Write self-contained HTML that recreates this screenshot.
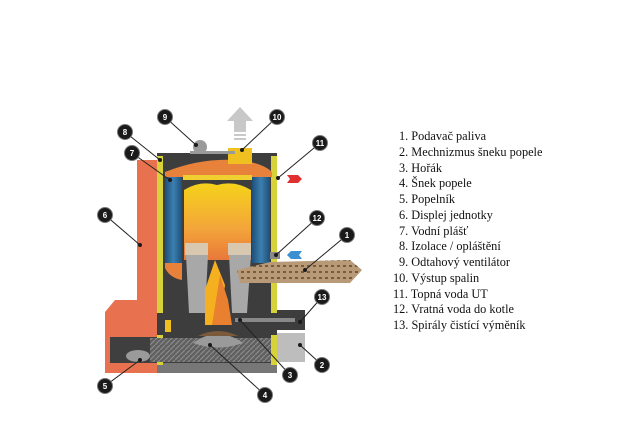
<!DOCTYPE html>
<html><head><meta charset="utf-8"><style>
body{margin:0;background:#fff;width:640px;height:423px;overflow:hidden;}
.lg{position:absolute;left:393px;top:129px;font-family:"Liberation Serif",serif;font-size:12.3px;line-height:15.75px;color:#111;white-space:nowrap;}
.lg span{display:inline-block;width:6px}
</style></head><body>
<svg width="640" height="423" style="position:absolute;left:0;top:0">
<defs>
<linearGradient id="fl" x1="0" y1="0" x2="0" y2="1"><stop offset="0" stop-color="#f5d21a"/><stop offset="0.6" stop-color="#f3a43a"/><stop offset="1" stop-color="#e8783a"/></linearGradient>
<linearGradient id="bl" x1="0" y1="0" x2="1" y2="0"><stop offset="0" stop-color="#1e4f78"/><stop offset="0.5" stop-color="#3c7fb0"/><stop offset="1" stop-color="#1e4f78"/></linearGradient>
<pattern id="pel" width="6" height="6" patternUnits="userSpaceOnUse"><rect width="6" height="6" fill="#b89a78"/><rect x="1" y="1" width="3" height="2" fill="#7a5a3a"/></pattern>
<pattern id="aug" width="5" height="5" patternUnits="userSpaceOnUse"><rect width="5" height="5" fill="#606060"/><line x1="0" y1="5" x2="5" y2="0" stroke="#8a8a8a" stroke-width="1.2"/></pattern>
</defs>
<!-- gray arrow -->
<polygon points="240,107 253,121 246,121 246,132 234,132 234,121 227,121" fill="#c8c8c8"/>
<rect x="234" y="134" width="12" height="2" fill="#c8c8c8"/><rect x="234" y="138" width="12" height="2" fill="#c8c8c8"/>
<!-- orange side panel -->
<rect x="137" y="160" width="20" height="142" fill="#e8714f"/>
<polygon points="105,312 115,300 157,300 157,373 105,373" fill="#e8714f"/>
<rect x="110" y="337" width="47" height="26" fill="#3f3f3f"/>
<ellipse cx="138" cy="356" rx="12" ry="6" fill="#9a9a9a"/>
<!-- body -->
<rect x="157" y="153" width="120" height="220" fill="#3d3d3d"/>
<rect x="157" y="363" width="120" height="10" fill="#777"/>
<rect x="157" y="156" width="6" height="157" fill="#d7d23a"/>
<rect x="271" y="156" width="6" height="157" fill="#d7d23a"/>
<rect x="157" y="335" width="6" height="30" fill="#d7d23a"/>
<rect x="271" y="335" width="6" height="30" fill="#d7d23a"/>
<!-- top duct -->
<path d="M165,172 Q200,158 235,160 Q262,162 272,172 L272,177 L165,177 Z" fill="#e8823a"/>
<rect x="228" y="148" width="24" height="16" fill="#f0c020"/>
<rect x="190" y="151" width="45" height="3" fill="#999"/>
<ellipse cx="200" cy="147" rx="7" ry="7" fill="#9a9a9a"/>
<!-- water jackets -->
<rect x="165" y="177" width="17" height="86" fill="url(#bl)"/>
<rect x="252" y="177" width="18" height="86" fill="url(#bl)"/>
<!-- flame chamber -->
<rect x="183" y="175" width="69" height="5" fill="#f0d030"/>
<path d="M184,260 L184,190 Q200,180 217,185 Q235,180 251,190 L251,260 Z" fill="url(#fl)"/>
<path d="M165,263 L182,263 L182,280 Q170,278 165,268 Z" fill="#e8823a"/>
<!-- burner cones -->
<rect x="185" y="243" width="23" height="12" fill="#d8c8b0"/>
<rect x="228" y="243" width="23" height="12" fill="#d8c8b0"/>
<polygon points="186,255 208,255 205,313 189,313" fill="#a8a8a8"/>
<polygon points="229,255 251,255 247,313 232,313" fill="#a8a8a8"/>
<polygon points="205,290 215,260 225,285 220,325 205,325" fill="#f5b020"/>
<polygon points="212,325 220,275 228,300 232,325" fill="#e88030"/>
<!-- pellet feeder -->
<polygon points="237,270 270,262 350,260 362,270 350,283 240,283" fill="url(#pel)"/>
<rect x="270" y="252" width="10" height="7" fill="#888"/>
<!-- 13 box -->
<rect x="277" y="310" width="28" height="20" fill="#3d3d3d"/>
<rect x="235" y="318" width="60" height="4" fill="#888"/>
<rect x="165" y="320" width="6" height="12" fill="#f0c020"/>
<!-- auger -->
<rect x="150" y="338" width="121" height="24" fill="url(#aug)"/>
<rect x="277" y="333" width="28" height="29" fill="#bdbdbd"/>
<path d="M193,343 Q218,325 243,343 Q218,352 193,343 Z" fill="#9a9a9a"/>
<path d="M198,336 Q218,326 238,336 Z" fill="#7a5a3a"/>
<!-- water arrows -->
<polygon points="287,175 298,175 302,179 298,183 287,183 290,179" fill="#e03030"/>
<polygon points="302,251 291,251 287,255 291,259 302,259 299,255" fill="#3a90d0"/>
<!-- leaders -->
<g stroke="#222" stroke-width="1">
<line x1="165" y1="117" x2="196" y2="145"/><line x1="277" y1="117" x2="242" y2="150"/>
<line x1="125" y1="132" x2="160" y2="160"/><line x1="132" y1="153" x2="170" y2="180"/>
<line x1="320" y1="143" x2="278" y2="178"/><line x1="105" y1="215" x2="140" y2="245"/>
<line x1="317" y1="218" x2="276" y2="255"/><line x1="347" y1="235" x2="305" y2="270"/>
<line x1="322" y1="297" x2="300" y2="322"/><line x1="322" y1="365" x2="300" y2="345"/>
<line x1="290" y1="375" x2="240" y2="320"/><line x1="265" y1="395" x2="210" y2="345"/>
<line x1="105" y1="386" x2="140" y2="360"/>
</g>
<g fill="#1a1a1a"><circle cx="196" cy="145" r="2"/><circle cx="242" cy="150" r="2"/><circle cx="160" cy="160" r="2"/><circle cx="170" cy="180" r="2"/><circle cx="278" cy="178" r="2"/><circle cx="140" cy="245" r="2"/><circle cx="276" cy="255" r="2"/><circle cx="305" cy="270" r="2"/><circle cx="300" cy="322" r="2"/><circle cx="300" cy="345" r="2"/><circle cx="240" cy="320" r="2"/><circle cx="210" cy="345" r="2"/><circle cx="140" cy="360" r="2"/></g>
<g fill="#1a1a1a" stroke="#777" stroke-width="1">
<circle cx="165" cy="117" r="7.5"/><circle cx="277" cy="117" r="7.5"/><circle cx="125" cy="132" r="7.5"/><circle cx="132" cy="153" r="7.5"/><circle cx="320" cy="143" r="7.5"/><circle cx="105" cy="215" r="7.5"/><circle cx="317" cy="218" r="7.5"/><circle cx="347" cy="235" r="7.5"/><circle cx="322" cy="297" r="7.5"/><circle cx="322" cy="365" r="7.5"/><circle cx="290" cy="375" r="7.5"/><circle cx="265" cy="395" r="7.5"/><circle cx="105" cy="386" r="7.5"/>
</g>
<g fill="#fff" font-family="Liberation Sans,sans-serif" font-size="8" font-weight="bold" text-anchor="middle">
<text x="165" y="120">9</text><text x="277" y="120">10</text><text x="125" y="135">8</text><text x="132" y="156">7</text><text x="320" y="146">11</text><text x="105" y="218">6</text><text x="317" y="221">12</text><text x="347" y="238">1</text><text x="322" y="300">13</text><text x="322" y="368">2</text><text x="290" y="378">3</text><text x="265" y="398">4</text><text x="105" y="389">5</text>
</g>
</svg>
<div class="lg">
<div><span></span>1. Podavač paliva</div>
<div><span></span>2. Mechnizmus šneku popele</div>
<div><span></span>3. Hořák</div>
<div><span></span>4. Šnek popele</div>
<div><span></span>5. Popelník</div>
<div><span></span>6. Displej jednotky</div>
<div><span></span>7. Vodní plášť</div>
<div><span></span>8. Izolace / opláštění</div>
<div><span></span>9. Odtahový ventilátor</div>
<div>10. Výstup spalin</div>
<div>11. Topná voda UT</div>
<div>12. Vratná voda do kotle</div>
<div>13. Spirály čistící výměník</div>
</div>
</body></html>
